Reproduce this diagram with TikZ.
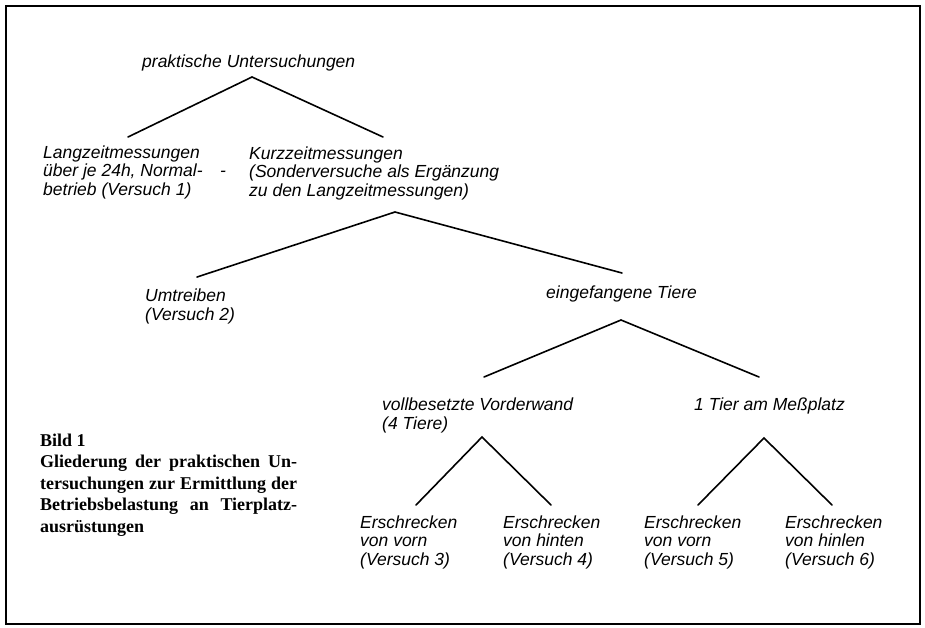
\documentclass[tikz,border=0pt]{standalone}
\usepackage{fontspec}
\setmainfont{Liberation Serif}
\newfontfamily\treefont{Liberation Sans}
\begin{document}
\begin{tikzpicture}[x=1pt,y=-1pt,
  tx/.style={font=\treefont\itshape\fontsize{17.5}{18.5}\selectfont, align=left, inner sep=0pt, anchor=west},
  captext/.style={font=\bfseries\fontsize{18}{21.5}\selectfont, align=left, inner sep=0pt, anchor=west},
  conn/.style={line width=1.6pt, line cap=round},
  framebox/.style={line width=1.6pt}]
\useasboundingbox (0,0) rectangle (925,627);
\draw[framebox] (6,6) rectangle (920,624);

% texts
\node[tx] (root) at (142,63) {praktische Untersuchungen};
\node[tx] (lang) at (43,172) {Langzeitmessungen\\über je 24h, Normal-\quad-\\betrieb (Versuch 1)};
\node[tx] (kurz) at (249,173) {Kurzzeitmessungen\\(Sonderversuche als Ergänzung\\zu den Langzeitmessungen)};
\node[tx] (umtr) at (145,306.5) {Umtreiben\\(Versuch 2)};
\node[tx] (eing) at (546,294) {eingefangene Tiere};
\node[tx] (voll) at (382,415.5) {vollbesetzte Vorderwand\\(4 Tiere)};
\node[tx] (eins) at (694,406) {1 Tier am Meßplatz};
\node[tx] (v3) at (360,542) {Erschrecken\\von vorn\\(Versuch 3)};
\node[tx] (v4) at (503,542) {Erschrecken\\von hinten\\(Versuch 4)};
\node[tx] (v5) at (644,542) {Erschrecken\\von vorn\\(Versuch 5)};
\node[tx] (v6) at (785,542) {Erschrecken\\von hinlen\\(Versuch 6)};

\node[captext] (caption) at (40,485) {Bild 1\\
\makebox[257pt][s]{Gliederung der praktischen Un-}\\
\makebox[257pt][s]{tersuchungen zur Ermittlung der}\\
\makebox[257pt][s]{Betriebsbelastung an Tierplatz-}\\
ausrüstungen};

% connector points
\coordinate (a1) at (252,77);  \coordinate (a1l) at (128,137); \coordinate (a1r) at (383,137);
\coordinate (a2) at (395,212); \coordinate (a2l) at (197,277); \coordinate (a2r) at (622,273);
\coordinate (a3) at (621,320); \coordinate (a3l) at (484,377); \coordinate (a3r) at (759,377);
\coordinate (a4) at (482,437); \coordinate (a4l) at (416,505); \coordinate (a4r) at (551,505);
\coordinate (a5) at (764,438); \coordinate (a5l) at (698,505); \coordinate (a5r) at (832,505);

\draw[conn] (a1l) -- (a1) -- (a1r);
\draw[conn] (a2l) -- (a2) -- (a2r);
\draw[conn] (a3l) -- (a3) -- (a3r);
\draw[conn] (a4l) -- (a4) -- (a4r);
\draw[conn] (a5l) -- (a5) -- (a5r);
\end{tikzpicture}
\end{document}
